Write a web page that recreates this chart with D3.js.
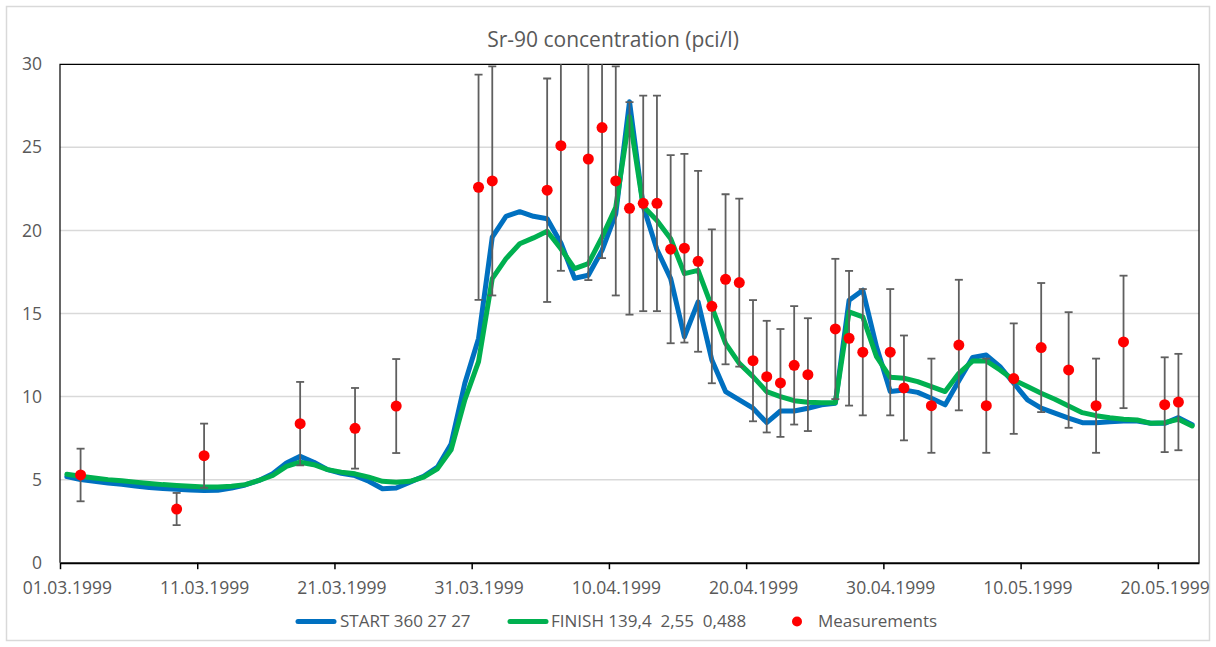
<!DOCTYPE html>
<html>
<head>
<meta charset="utf-8">
<script src="https://cdn.jsdelivr.net/npm/d3@7"></script>
<style>
  body { margin: 0; background: #fff; }
  text { font-family: "Open Sans", sans-serif; fill: #595959; }
</style>
</head>
<body>
<svg id="chart" width="1216" height="647"></svg>
<script>
// daily model output, first value is 01.03.1999
var seriesStart = "01.03.1999";
var startValues = [5.18, 5.0, 4.9, 4.8, 4.72, 4.62, 4.53, 4.47, 4.42, 4.37,
    4.34, 4.36, 4.5, 4.68, 4.95, 5.35, 6.0, 6.4, 6.05, 5.6,
    5.38, 5.24, 4.9, 4.45, 4.5, 4.85, 5.2, 5.75, 7.15, 10.8,
    13.5, 19.6, 20.85, 21.13, 20.85, 20.7, 19.25, 17.12, 17.3, 18.8,
    21.0, 27.75, 21.45, 18.85, 17.1, 13.6, 15.7, 12.2, 10.3, 9.8,
    9.3, 8.43, 9.13, 9.13, 9.3, 9.5, 9.6, 15.8, 16.4, 13.0,
    10.3, 10.4, 10.25, 9.9, 9.5, 10.95, 12.35, 12.5, 11.8, 10.8,
    9.8, 9.3, 9.0, 8.7, 8.43, 8.43, 8.48, 8.53, 8.53, 8.39,
    8.39, 8.73, 8.3];
var finishValues = [5.32, 5.2, 5.1, 5.0, 4.93, 4.85, 4.77, 4.7, 4.65, 4.6,
    4.55, 4.55, 4.6, 4.7, 4.95, 5.25, 5.8, 6.05, 5.9, 5.6,
    5.45, 5.35, 5.15, 4.9, 4.84, 4.9, 5.15, 5.65, 6.8, 9.8,
    12.1, 17.1, 18.3, 19.2, 19.55, 19.95, 18.9, 17.7, 18.0, 19.6,
    21.4, 26.85, 21.45, 20.6, 19.5, 17.4, 17.6, 15.4, 13.2, 12.0,
    11.2, 10.3, 10.0, 9.75, 9.66, 9.63, 9.63, 15.1, 14.8, 12.4,
    11.16, 11.1, 10.9, 10.6, 10.3, 11.4, 12.14, 12.14, 11.6, 11.0,
    10.6, 10.2, 9.84, 9.43, 9.03, 8.85, 8.73, 8.63, 8.59, 8.39,
    8.43, 8.63, 8.23];

var measDates = ["02.03.1999", "09.03.1999", "11.03.1999", "18.03.1999", "22.03.1999", "25.03.1999",
    "31.03.1999", "01.04.1999", "05.04.1999", "06.04.1999", "08.04.1999", "09.04.1999",
    "10.04.1999", "11.04.1999", "12.04.1999", "13.04.1999", "14.04.1999", "15.04.1999",
    "16.04.1999", "17.04.1999", "18.04.1999", "19.04.1999", "20.04.1999", "21.04.1999",
    "22.04.1999", "23.04.1999", "24.04.1999", "26.04.1999", "27.04.1999", "28.04.1999",
    "30.04.1999", "01.05.1999", "03.05.1999", "05.05.1999", "07.05.1999", "09.05.1999",
    "11.05.1999", "13.05.1999", "15.05.1999", "17.05.1999", "20.05.1999", "21.05.1999"];
var measValues = [5.28, 3.23, 6.44, 8.37, 8.09, 9.43,
    22.6, 22.98, 22.42, 25.1, 24.3, 26.19,
    22.98, 21.33, 21.63, 21.63, 18.87, 18.93,
    18.14, 15.43, 17.06, 16.86, 12.16, 11.2,
    10.82, 11.88, 11.32, 14.07, 13.51, 12.67,
    12.67, 10.52, 9.45, 13.1, 9.45, 11.08,
    12.95, 11.6, 9.45, 13.29, 9.51, 9.67];
var errorPct = 0.3;   // percentage error bars

var xTicks = ["01.03.1999", "11.03.1999", "21.03.1999", "31.03.1999", "10.04.1999",
    "20.04.1999", "30.04.1999", "10.05.1999", "20.05.1999"];
var xEnd = "23.05.1999";
var yTicks = [0, 5, 10, 15, 20, 25, 30];

var seriesNames = ["START 360 27 27", "FINISH 139,4  2,55  0,488", "Measurements"];
var seriesColors = ["#0070c0", "#00b050", "#ff0000"];

(function () {
var parse = d3.utcParse("%d.%m.%Y");
var fmt = d3.utcFormat("%d.%m.%Y");
var halfDay = 12 * 3600 * 1000;

var svg = d3.select("#chart");
var pLeft = 60, pRight = 1199, pTop = 64.3, pBottom = 562.7;

var x = d3.scaleUtc()
    .domain([parse(seriesStart), parse(xEnd)])
    .range([pLeft, pRight]);
var y = d3.scaleLinear().domain([0, 30]).range([pBottom, pTop]);

// mid-day position, like excel "between tick marks"
function xMid(date) { return x(new Date(date.getTime() + halfDay)); }

// outer chart frame
svg.append("rect")
    .attr("x", 6.5).attr("y", 6.5).attr("width", 1203).attr("height", 634)
    .attr("fill", "#fff").attr("stroke", "#d9d9d9").attr("stroke-width", 1.5);

svg.append("text")
    .attr("x", 613).attr("y", 47)
    .attr("text-anchor", "middle")
    .style("font-size", "21px")
    .text("Sr-90 concentration (pci/l)");

svg.append("defs").append("clipPath").attr("id", "plotClip")
    .append("rect")
    .attr("x", pLeft).attr("y", pTop).attr("width", pRight - pLeft).attr("height", pBottom - pTop);

// gridlines
svg.append("g")
    .selectAll("line")
    .data(yTicks.filter(function (d) { return d > 0 && d < 30; }))
    .enter().append("line")
    .attr("x1", pLeft).attr("x2", pRight)
    .attr("y1", function (d) { return y(d); })
    .attr("y2", function (d) { return y(d); })
    .attr("stroke", "#d9d9d9").attr("stroke-width", 1.5);

// y labels
var yAxis = svg.append("g")
    .attr("transform", "translate(" + pLeft + ",0)")
    .call(d3.axisLeft(y).tickValues(yTicks).tickSize(0).tickPadding(18));
yAxis.select(".domain").remove();
yAxis.selectAll("text").style("font-size", "17.5px").attr("fill", "#595959");

// x axis
var xAxis = svg.append("g")
    .attr("transform", "translate(0," + pBottom + ")")
    .call(d3.axisBottom(x)
        .tickValues(xTicks.map(parse))
        .tickFormat(fmt)
        .tickSize(6.5)
        .tickSizeOuter(0)
        .tickPadding(12));
xAxis.select(".domain").attr("stroke", "#000").attr("stroke-width", 2);
xAxis.selectAll(".tick line").attr("stroke", "#000").attr("stroke-width", 1.5);
xAxis.selectAll("text")
    .style("font-size", "17.5px").attr("fill", "#595959")
    .attr("dx", x(new Date(parse(seriesStart).getTime() + halfDay)) - pLeft);

// plot border (top, left, right)
svg.append("path")
    .attr("d", "M" + pLeft + "," + pBottom + "V" + pTop + "H" + pRight + "V" + pBottom)
    .attr("fill", "none").attr("stroke", "#000").attr("stroke-width", 1.2);

var plot = svg.append("g").attr("clip-path", "url(#plotClip)");

var start = parse(seriesStart);
function toPoints(values) {
    return values.map(function (v, i) { return { date: d3.utcDay.offset(start, i), value: v }; });
}
var line = d3.line()
    .x(function (d) { return xMid(d.date); })
    .y(function (d) { return y(d.value); });

[startValues, finishValues].forEach(function (vals, k) {
    plot.append("path")
        .datum(toPoints(vals))
        .attr("d", line)
        .attr("fill", "none")
        .attr("stroke", seriesColors[k])
        .attr("stroke-width", 5)
        .attr("stroke-linejoin", "round")
        .attr("stroke-linecap", "round");
});

var meas = measDates.map(function (d, i) { return { date: parse(d), value: measValues[i] }; });

var bars = plot.append("g").attr("stroke", "#5f5f5f").attr("stroke-width", 1.8);
meas.forEach(function (d) {
    var cx = xMid(d.date);
    var hi = y(d.value * (1 + errorPct)), lo = y(d.value * (1 - errorPct));
    bars.append("line").attr("x1", cx).attr("x2", cx).attr("y1", hi).attr("y2", lo);
    bars.append("line").attr("x1", cx - 4).attr("x2", cx + 4).attr("y1", hi).attr("y2", hi);
    bars.append("line").attr("x1", cx - 4).attr("x2", cx + 4).attr("y1", lo).attr("y2", lo);
});

plot.append("g")
    .selectAll("circle")
    .data(meas)
    .enter().append("circle")
    .attr("cx", function (d) { return xMid(d.date); })
    .attr("cy", function (d) { return y(d.value); })
    .attr("r", 5.5)
    .attr("fill", seriesColors[2]);

// legend
var legendY = 621.5;
var legendItems = [
    { x: 298, textX: 340 },
    { x: 510, textX: 551 },
    { x: 797, textX: 818 }
];
var legend = svg.append("g");
legendItems.forEach(function (item, k) {
    if (k < 2) {
        legend.append("line")
            .attr("x1", item.x).attr("x2", item.x + 36)
            .attr("y1", legendY).attr("y2", legendY)
            .attr("stroke", seriesColors[k]).attr("stroke-width", 5)
            .attr("stroke-linecap", "round");
    } else {
        legend.append("circle")
            .attr("cx", item.x).attr("cy", legendY).attr("r", 5)
            .attr("fill", seriesColors[k]);
    }
    legend.append("text")
        .attr("x", item.textX).attr("y", legendY)
        .attr("dy", "0.35em")
        .style("font-size", "17px")
        .style("white-space", "pre")
        .text(seriesNames[k]);
});
})();
</script>
</body>
</html>
